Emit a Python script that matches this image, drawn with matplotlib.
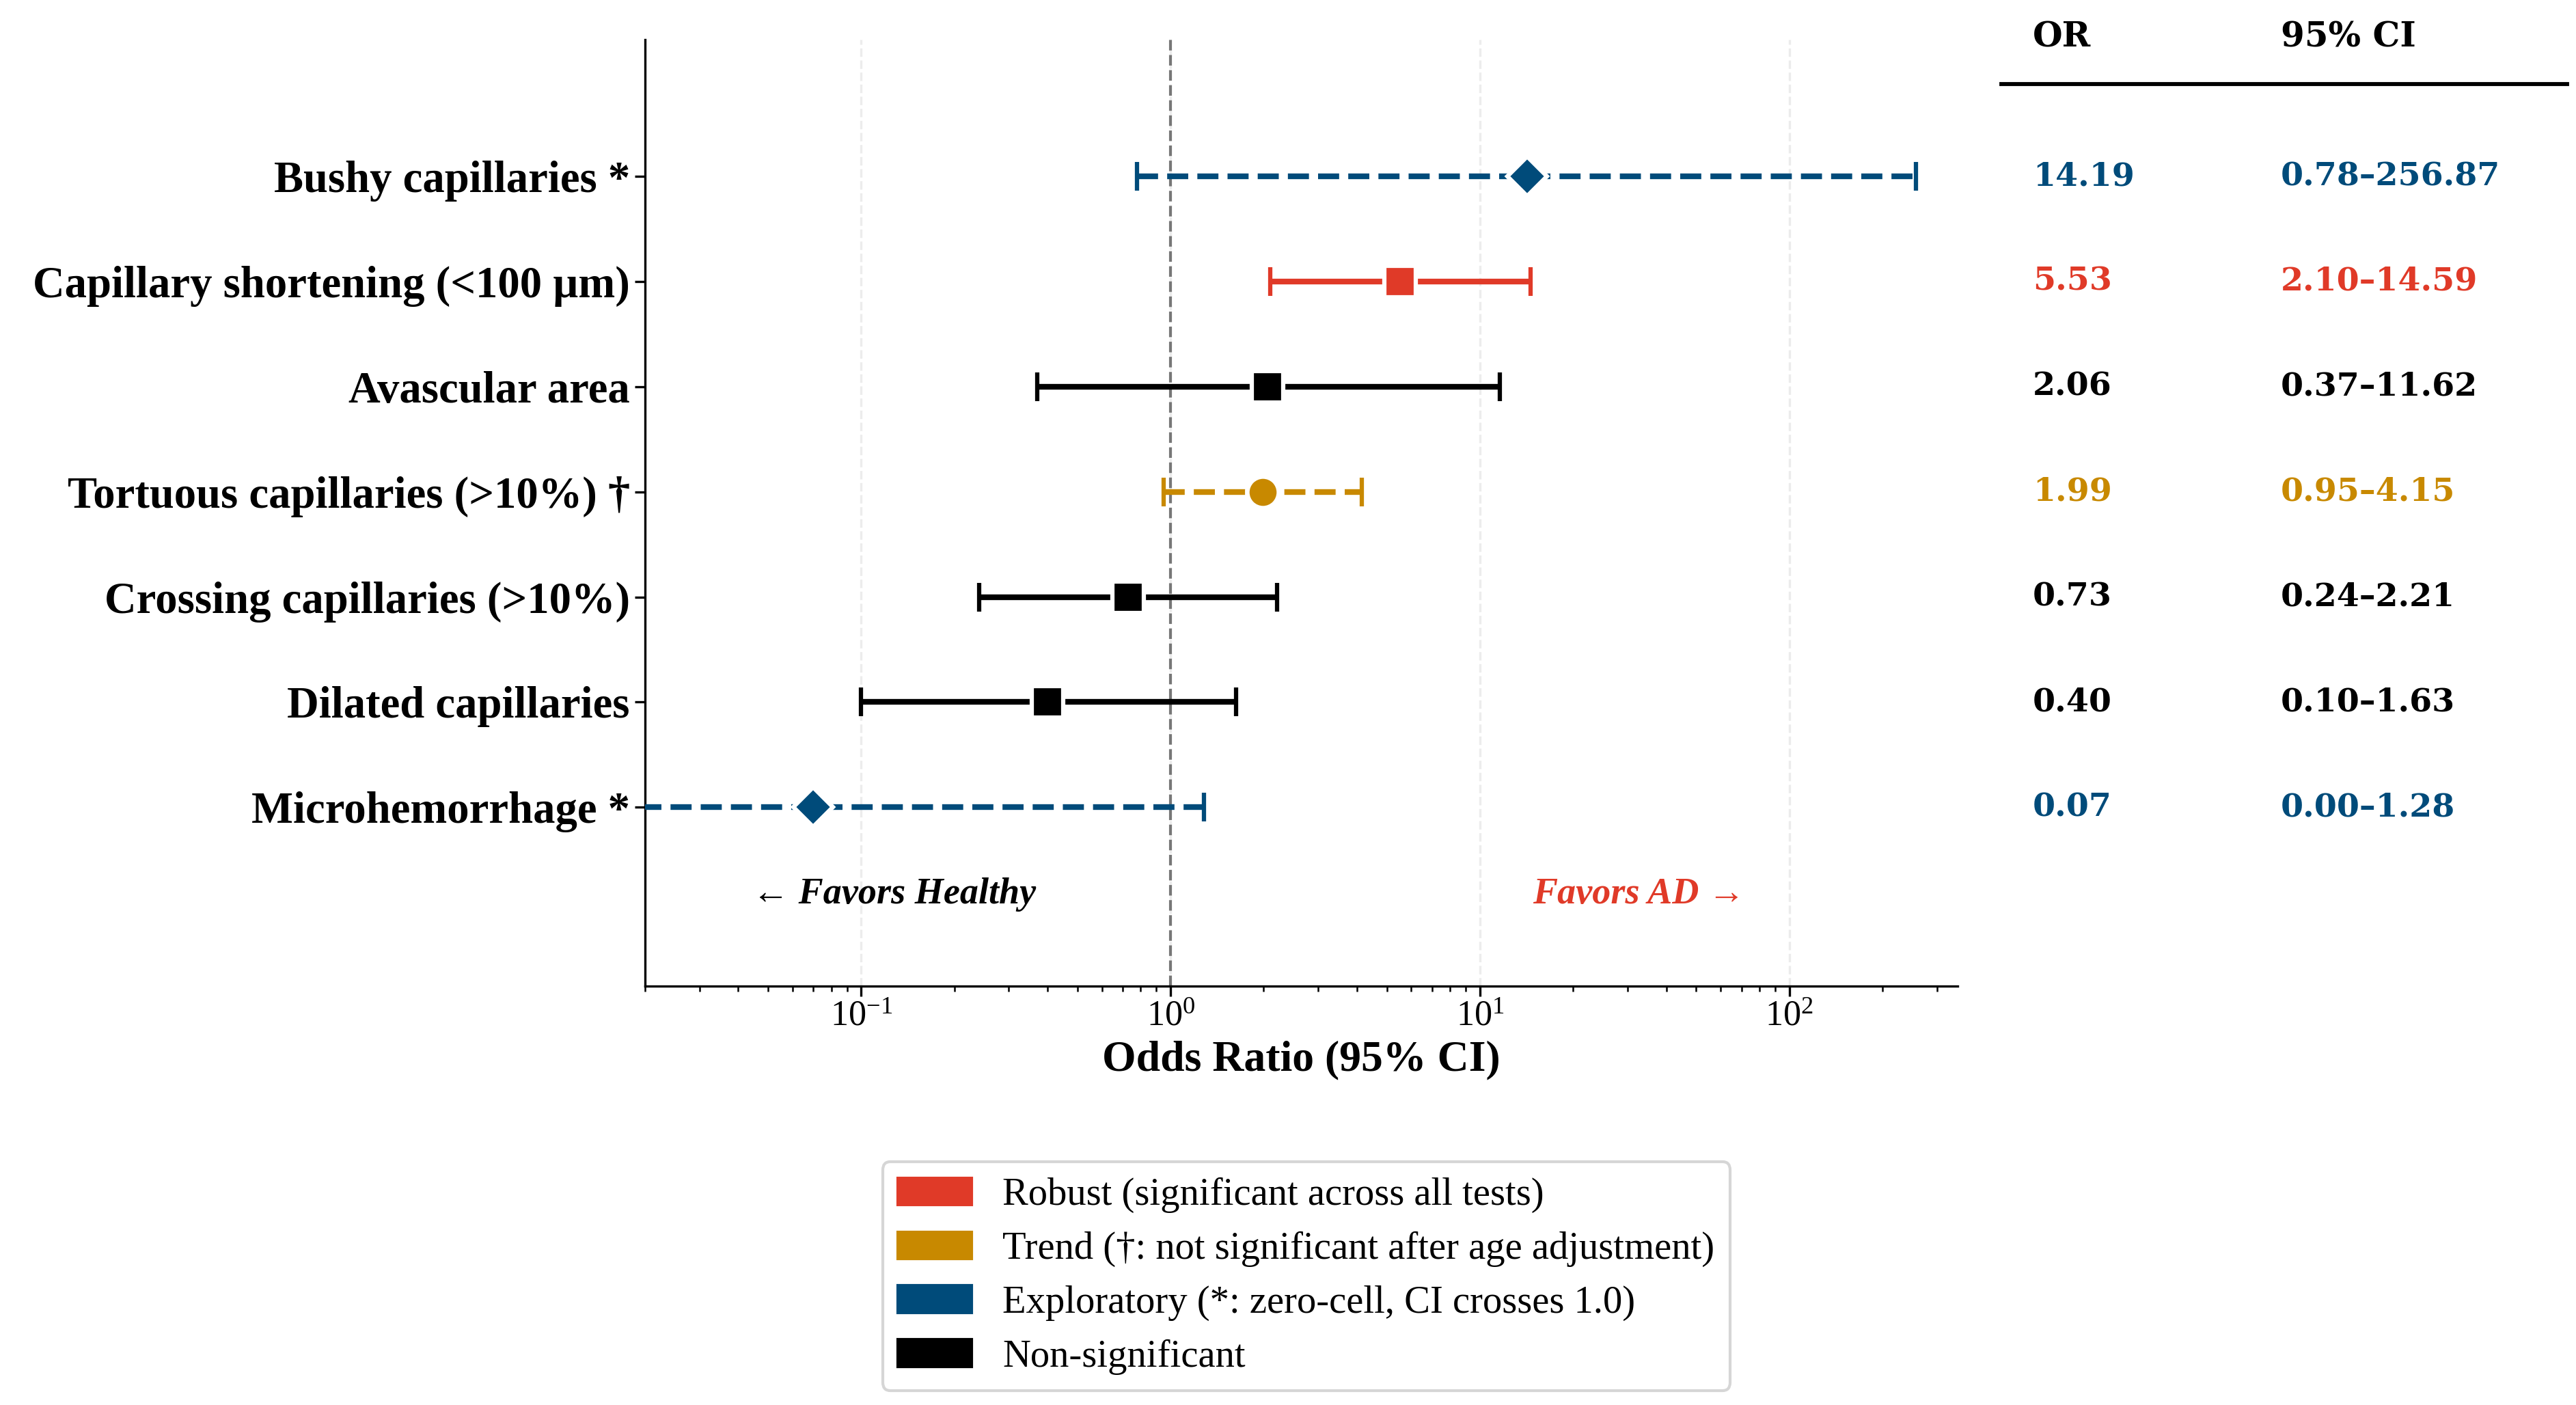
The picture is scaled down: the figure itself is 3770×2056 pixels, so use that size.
import matplotlib
matplotlib.use("Agg")
import matplotlib.pyplot as plt
from matplotlib.patches import Patch
from matplotlib.transforms import blended_transform_factory

# ---------------- data ----------------
labels = ["Bushy capillaries *", "Capillary shortening (<100 µm)", "Avascular area",
          "Tortuous capillaries (>10%) †", "Crossing capillaries (>10%)",
          "Dilated capillaries", "Microhemorrhage *"]
or_vals = [14.19, 5.53, 2.06, 1.99, 0.73, 0.40, 0.07]
ci_low = [0.78, 2.10, 0.37, 0.95, 0.24, 0.10, 0.004]
ci_high = [256.87, 14.59, 11.62, 4.15, 2.21, 1.63, 1.28]
groups = ["exploratory", "robust", "ns", "trend", "ns", "ns", "exploratory"]

group_color = {"robust": "#E03A28", "trend": "#C88900", "exploratory": "#004B7A", "ns": "#000000"}
group_marker = {"robust": "s", "trend": "o", "exploratory": "D", "ns": "s"}
group_ls = {"robust": "-", "trend": "--", "exploratory": "--", "ns": "-"}
legend_labels = [("robust", "Robust (significant across all tests)"),
                 ("trend", "Trend (†: not significant after age adjustment)"),
                 ("exploratory", "Exploratory (*: zero-cell, CI crosses 1.0)"),
                 ("ns", "Non-significant")]

SERIF = ["Liberation Serif", "DejaVu Serif"]
plt.rcParams["font.family"] = SERIF
plt.rcParams["mathtext.fontset"] = "stix"

fig = plt.figure(figsize=(3770 / 300, 2056 / 300), dpi=300)
ax = fig.add_axes([944 / 3770, 1 - 1443 / 2056, (2865 - 944) / 3770, (1443 - 58) / 2056])

n = len(labels)
ypos = list(range(n - 1, -1, -1))

for i in range(n):
    g = groups[i]
    c = group_color[g]
    lo = or_vals[i] - ci_low[i]
    hi = ci_high[i] - or_vals[i]
    ms = 10 if group_marker[g] == "D" else 11
    eb = ax.errorbar(or_vals[i], ypos[i], xerr=[[lo], [hi]], fmt=group_marker[g],
                     color=c, ecolor=c, elinewidth=2, capsize=5, capthick=2,
                     markersize=ms, markeredgecolor="white", markeredgewidth=1.5, zorder=3)
    eb[2][0].set_linestyle(group_ls[g])

ax.axvline(1.0, color="#777777", ls="--", lw=1, zorder=1)

ax.set_xscale("log")
ax.set_xlim(0.02, 350)
ax.set_ylim(-1.7, 7.3)
ax.set_yticks(ypos)
ax.set_yticklabels(labels, fontsize=15.5, fontweight="bold")
ax.tick_params(axis="y", pad=1.8)
ax.tick_params(axis="x", labelsize=12.5, pad=1.5)
ax.set_xlabel("Odds Ratio (95% CI)", fontsize=15.3, fontweight="bold", labelpad=2.5)
ax.grid(axis="x", which="major", ls="--", color="#ececec", lw=0.8, zorder=0)
ax.set_axisbelow(True)
for s in ["top", "right"]:
    ax.spines[s].set_visible(False)

ax.text(0.19, -0.83, "← Favors Healthy", transform=blended_transform_factory(ax.transAxes, ax.transData),
        ha="center", va="center", fontsize=13, fontstyle="italic", fontweight="bold", color="black")
ax.text(0.757, -0.83, "Favors AD →", transform=blended_transform_factory(ax.transAxes, ax.transData),
        ha="center", va="center", fontsize=13, fontstyle="italic", fontweight="bold", color=group_color["robust"])

# table
tr = blended_transform_factory(fig.transFigure, ax.transData)
TFONT = ["DejaVu Serif"]
x_or = 2975 / 3770
x_ci = 3338 / 3770
ax.text(x_or, 7.32, "OR", transform=tr, ha="left", va="center", fontsize=12, fontweight="bold",
        family=TFONT, clip_on=False)
ax.text(x_ci, 7.32, "95% CI", transform=tr, ha="left", va="center", fontsize=12, fontweight="bold",
        family=TFONT, clip_on=False)
ax.plot([2929 / 3770, 3757 / 3770], [6.877, 6.877], transform=tr, color="black", lw=1.4, clip_on=False)
for i in range(n):
    c = group_color[groups[i]]
    ax.text(x_or, ypos[i], f"{or_vals[i]:.2f}", transform=tr, ha="left", va="center", fontsize=11.4,
            fontweight="bold", color=c, family=TFONT, clip_on=False)
    ax.text(x_ci, ypos[i], f"{ci_low[i]:.2f}–{ci_high[i]:.2f}", transform=tr, ha="left", va="center",
            fontsize=11.4, fontweight="bold", color=c, family=TFONT, clip_on=False)

handles = [Patch(facecolor=group_color[k], edgecolor=group_color[k], label=t) for k, t in legend_labels]
fig.legend(handles=handles, loc="upper center", bbox_to_anchor=(1912 / 3770, 1 - 1672 / 2056),
           fontsize=13.6, frameon=True, handlelength=1.9, fancybox=True, edgecolor="#cccccc",
           labelspacing=0.47)

fig.savefig("out.png", dpi=300)
